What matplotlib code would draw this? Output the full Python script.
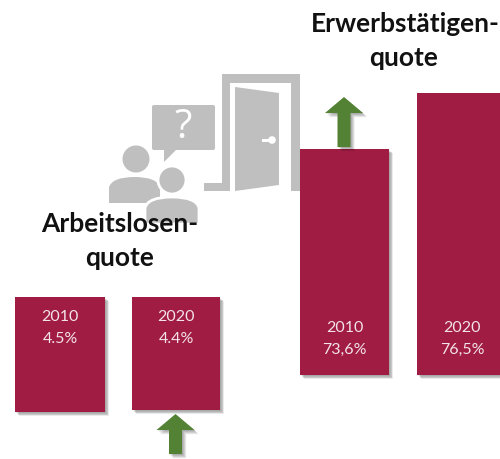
import matplotlib

matplotlib.use("Agg")
import matplotlib.patheffects as pe
import matplotlib.pyplot as plt
from matplotlib.patches import Circle, FancyBboxPatch, PathPatch, Polygon
from matplotlib.path import Path

years = ["2010", "2020", "2010", "2020"]
rate_labels = ["4.5%", "4.4%", "73,6%", "76,5%"]
bar_heights = [115, 113, 226, 282]  # heights as they stand in the picture, not to scale with the rates

bar_lefts = [15, 132, 300, 417]
bar_widths = [90, 88, 89, 90]
bar_bottoms = [412, 410, 375, 375]
label_rows = [317, 317, 328, 328]

RED = "#a01c43"
GREEN = "#548235"
GREY = "#bfbfbf"
TITLE_FONT = "Lato"

fig = plt.figure(figsize=(5, 4.59), dpi=100)
ax = fig.add_axes([0, 0, 1, 1])
ax.set_xlim(0, 500)
ax.set_ylim(459, 0)  # pixel coordinates, y runs down
ax.axis("off")


def soft_shadow():
    # several faint offset copies, looks like the blurred office shadow
    effects = []
    for off in (3.0, 2.4, 1.8, 1.2, 0.6):
        effects.append(pe.SimplePatchShadow(offset=(off, -off), shadow_rgbFace="black", alpha=0.08))
    effects.append(pe.Normal())
    return effects


def arrow(x, tip, length):
    pts = [
        (x, tip), (x + 19, tip + 16), (x + 6.5, tip + 16), (x + 6.5, tip + length),
        (x - 6.5, tip + length), (x - 6.5, tip + 16), (x - 19, tip + 16),
    ]
    ax.add_patch(Polygon(pts, closed=True, fc=GREEN, ec="none", zorder=5, path_effects=soft_shadow()))


def shoulders(left, right, top, bottom, **kw):
    # rounded torso, curve from the left edge over the top to the right edge
    mid = (left + right) / 2
    shoulder = top + (bottom - top) * 0.4
    verts = [
        (left, bottom), (left, shoulder), (left + 3, top), (mid, top),
        (right - 3, top), (right, shoulder), (right, bottom), (left, bottom),
    ]
    codes = [Path.MOVETO, Path.LINETO, Path.CURVE3, Path.CURVE3, Path.CURVE3, Path.CURVE3, Path.LINETO, Path.CLOSEPOLY]
    ax.add_patch(PathPatch(Path(verts, codes), **kw))


# door frame
frame = [
    (204, 183), (222, 183), (222, 74), (300, 74), (300, 191), (291, 191),
    (291, 83), (230, 83), (230, 191), (204, 191),
]
ax.add_patch(Polygon(frame, closed=True, fc=GREY, ec="none", zorder=1))
ax.add_patch(Polygon([(235, 87), (279, 93), (279, 185), (235, 191)], closed=True, fc=GREY, ec="none", zorder=1))
ax.add_patch(Circle((272, 140), 3.8, fc="white", ec="none", zorder=2))
ax.add_patch(Polygon([(262, 139), (272, 139), (272, 142), (262, 142)], closed=True, fc="white", ec="none", zorder=2))

# speech bubble
ax.add_patch(FancyBboxPatch((154, 107), 59, 41, boxstyle="round,pad=2", fc=GREY, ec="none", zorder=1))
ax.add_patch(Polygon([(164, 148), (178, 148), (164, 162)], closed=True, fc=GREY, ec="none", zorder=1))
ax.text(183, 128, "?", color="white", fontsize=29, family="Open Sans", ha="center", va="center", zorder=2)

# two people
ax.add_patch(Circle((136, 159), 13.5, fc=GREY, ec="none", zorder=1))
shoulders(109, 160, 177, 203, fc=GREY, ec="none", zorder=1)
ax.add_patch(Circle((172, 180), 14, fc=GREY, ec="white", lw=2, zorder=2))
shoulders(145, 199, 197, 224, fc=GREY, ec="white", lw=2, zorder=2)

for i in range(len(years)):
    ax.bar(
        bar_lefts[i], -bar_heights[i], bar_widths[i], bottom=bar_bottoms[i], align="edge",
        color=RED, zorder=3, path_effects=soft_shadow(),
    )
    mid = bar_lefts[i] + bar_widths[i] / 2
    ax.text(mid, label_rows[i], years[i], color="#f3e3ea", fontsize=11.5, family=TITLE_FONT,
            ha="center", va="center", zorder=6)
    ax.text(mid, label_rows[i] + 22, rate_labels[i], color="#f3e3ea", fontsize=11.5, family=TITLE_FONT,
            ha="center", va="center", zorder=6)

arrow(175.5, 414, 40)
arrow(344, 97, 50)

# headings
for x, y, s in [(120, 224, "Arbeitslosen-"), (120, 258, "quote"), (405, 24, "Erwerbstätigen-"), (404, 58, "quote")]:
    ax.text(x, y, s, color="#111111", fontsize=19, fontweight="bold", family=TITLE_FONT,
            ha="center", va="center", zorder=7)

fig.savefig("out.png", dpi=100)
